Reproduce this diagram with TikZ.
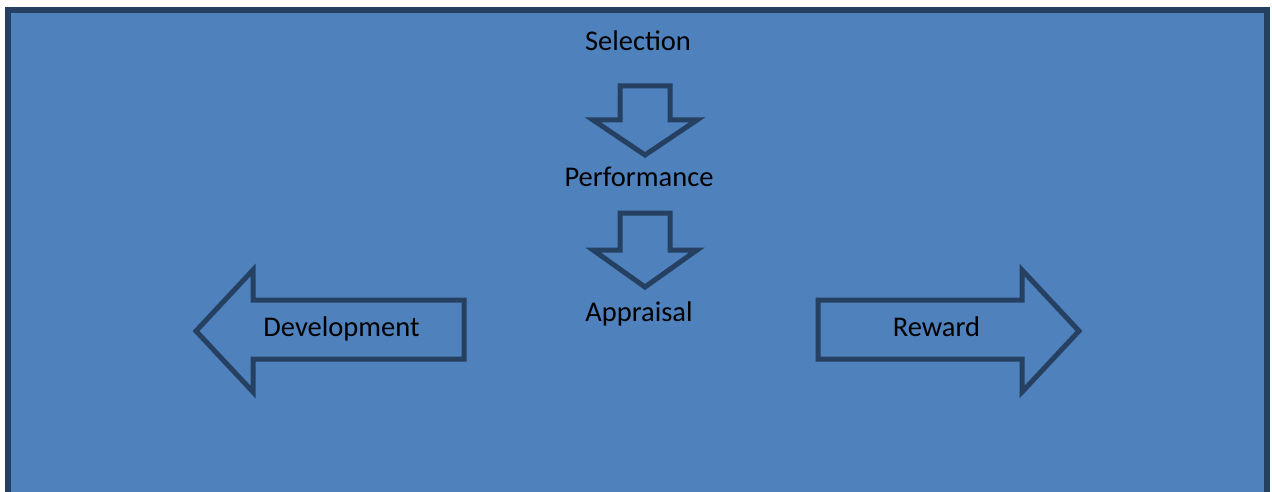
\documentclass[tikz,border=0pt]{standalone}
\usepackage{fontspec}
\setmainfont{Carlito}
\usetikzlibrary{positioning}
\definecolor{panelblue}{HTML}{4F81BD}
\definecolor{edgeblue}{HTML}{254061}

\begin{document}
\begin{tikzpicture}[x=1pt,y=-1pt,
		lbl/.style={font=\fontsize{28.5}{34}\selectfont, text=black, inner sep=0pt, anchor=base},
		outline/.style={draw=edgeblue, line width=5pt, line join=miter}]
	\useasboundingbox (0,0) rectangle (1272,492);
	\fill[white] (0,0) rectangle (1272,492);
	%%%%%%%%%%%%%%%
	\fill[panelblue] (8,10.5) rectangle (1267,530);
	\draw[edgeblue, line width=6pt] (8,530) |- (1267,10.5) -- (1267,530);
	%%%%%%%%%%%%%%%
	\node[lbl] (sel) at (638,51) {Selection};
	\node[lbl] (perf) at (639,186) {Performance};
	\node[lbl] (appr) at (639,321.5) {Appraisal};
	\node[lbl] (dev) at (341.5,336) {Development};
	\node[lbl] (rew) at (936.5,336) {Reward};
	%%%%%%%%%%%%%%%
	\draw[outline] (620,86) -- (670,86) -- (670,120) -- (697,120) -- (645,155)
		-- (593,120) -- (620,120) -- cycle;
	\draw[outline] (620,213) -- (670,213) -- (670,250) -- (697,250) -- (645,287)
		-- (593,250) -- (620,250) -- cycle;
	%%%%%%%%%%%%%%%
	\draw[outline] (464,300) -- (253,300) -- (253,270) -- (196,331) -- (253,392)
		-- (253,359) -- (464,359) -- cycle;
	\draw[outline] (818,300) -- (1022,300) -- (1022,270) -- (1079,331) -- (1022,392)
		-- (1022,359) -- (818,359) -- cycle;
\end{tikzpicture}
\end{document}
